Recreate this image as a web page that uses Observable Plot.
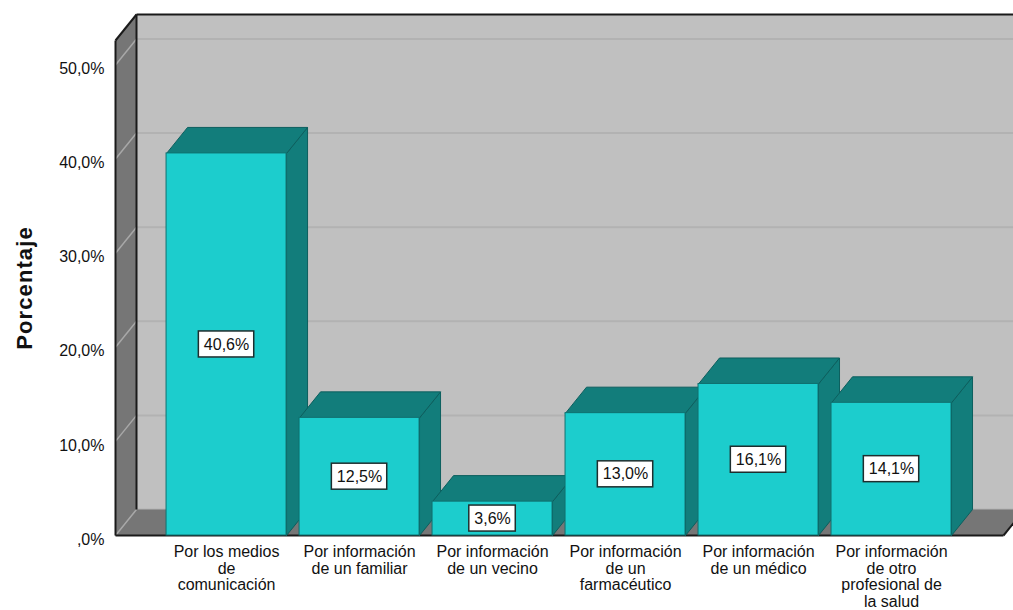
<!DOCTYPE html>
<html><head><meta charset="utf-8">
<script src="https://cdn.jsdelivr.net/npm/d3@7"></script>
<script src="https://cdn.jsdelivr.net/npm/@observablehq/plot@0.6"></script>
<style>html,body{margin:0;padding:0;overflow:hidden;background:#fff}</style>
</head><body><div id="chart"></div>
<script>
// ---- data ----
const categories = [
  "Por los medios\nde\ncomunicación",
  "Por información\nde un familiar",
  "Por información\nde un vecino",
  "Por información\nde un\nfarmacéutico",
  "Por información\nde un médico",
  "Por información\nde otro\nprofesional de\nla salud"
];
const percentages = [40.6, 12.5, 3.6, 13.0, 16.1, 14.1];
const yTicks = [0, 10, 20, 30, 40, 50];
const yLabel = "Porcentaje";

// ---- layout ----
const W = 1013, H = 610;
const M = {top: 40, right: 10, bottom: 75, left: 115};
const xDomain = [-0.835, 5.842];
const yDomain = [0, 52.6];
const kx = (W - M.left - M.right) / (xDomain[1] - xDomain[0]);
const ky = (H - M.top - M.bottom) / (yDomain[1] - yDomain[0]);
const DX = 21 / kx, DY = 26 / ky;   // 3D depth offset
const HW = 60 / kx;                 // half bar width
const BH = 13 / ky;                 // half label box height
const [xa, xb] = xDomain, ymax = yDomain[1];

const fmtPct = v => v.toFixed(1).replace(".", ",") + "%";
const fmtTick = v => v === 0 ? ",0%" : fmtPct(v);

const ctx = document.createElement("canvas").getContext("2d");
ctx.font = "16px 'Liberation Sans', Arial, sans-serif";

function poly(id, pts) { return pts.concat([pts[0]]).map(([x, y]) => ({id, x, y})); }

const bars = percentages.map((v, i) => ({i, v}));
const sides = bars.flatMap(({i, v}) => poly(i, [[i + HW, 0], [i + HW, v], [i + HW + DX, v + DY], [i + HW + DX, DY]]));
const tops = bars.flatMap(({i, v}) => poly(i, [[i - HW, v], [i + HW, v], [i + HW + DX, v + DY], [i - HW + DX, v + DY]]));
const walls = [
  ...poly("left", [[xa, 0], [xa, ymax], [xa + DX, ymax + DY], [xa + DX, DY]]),
  ...poly("floor", [[xa, 0], [xb, 0], [xb + DX, DY], [xa + DX, DY]])
];
const edges = [
  {x1: xa, y1: 0, x2: xa, y2: ymax},
  {x1: xa, y1: ymax, x2: xa + DX, y2: ymax + DY},
  {x1: xa + DX, y1: ymax + DY, x2: xb + DX, y2: ymax + DY},
  {x1: xa + DX, y1: ymax + DY, x2: xa + DX, y2: DY},
  {x1: xa, y1: 0, x2: xb, y2: 0},
  {x1: xb, y1: 0, x2: xb + DX, y2: DY}
];
const labels = bars.map(d => ({...d, hw: (ctx.measureText(fmtPct(d.v)).width + 10) / 2 / kx}));

const chart = Plot.plot({
  width: W, height: H,
  marginTop: M.top, marginRight: M.right, marginBottom: M.bottom, marginLeft: M.left,
  x: {type: "linear", domain: xDomain, label: null},
  y: {domain: yDomain, label: null},
  style: {fontFamily: "'Liberation Sans', Arial, sans-serif", fontSize: "16px", color: "#111", background: "white"},
  marks: [
    // back wall
    Plot.rect([0], {x1: () => xa + DX, x2: () => xb + DX, y1: () => DY, y2: () => ymax + DY, fill: "#c0c0c0"}),
    Plot.link(yTicks, {x1: () => xa + DX, x2: () => xb + DX, y1: t => t + DY, y2: t => t + DY, stroke: "#b2b2b2", strokeWidth: 2}),
    // left wall and floor
    Plot.line(walls, {x: "x", y: "y", z: "id", fill: "#767676", stroke: "none", curve: "linear"}),
    Plot.link(yTicks, {x1: () => xa, x2: () => xa + DX, y1: t => t, y2: t => t + DY, stroke: "#a8a8a8", strokeWidth: 1.5}),
    Plot.link(edges, {x1: "x1", y1: "y1", x2: "x2", y2: "y2", stroke: "#1a1a1a", strokeWidth: 2}),
    // bars
    Plot.line(sides, {x: "x", y: "y", z: "id", fill: "#127d7b", stroke: "#0c5f5e", strokeWidth: 1, curve: "linear"}),
    Plot.line(tops, {x: "x", y: "y", z: "id", fill: "#127d7b", stroke: "#0c5f5e", strokeWidth: 1, curve: "linear"}),
    Plot.rect(bars, {x1: d => d.i - HW, x2: d => d.i + HW, y1: 0, y2: "v", fill: "#1ccdcd", stroke: "#0f7170", strokeWidth: 1}),
    // value labels
    Plot.rect(labels, {x1: d => d.i - d.hw, x2: d => d.i + d.hw, y1: d => d.v / 2 - BH, y2: d => d.v / 2 + BH, fill: "white", stroke: "#1e2e2e", strokeWidth: 1.5}),
    Plot.text(labels, {x: "i", y: d => d.v / 2, text: d => fmtPct(d.v), fontSize: 16, fill: "#111"}),
    // axes
    Plot.axisY(yTicks, {tickSize: 0, tickPadding: 11, tickFormat: fmtTick, fontSize: 16, label: null, dy: 4}),
    Plot.axisX(d3.range(categories.length), {tickSize: 0, tickPadding: 10, tickFormat: i => categories[i], fontSize: 16, lineHeight: 1.03, label: null}),
    Plot.text([yLabel], {frameAnchor: "left", textAnchor: "middle", text: d => d, rotate: -90, dx: -91, fontSize: 22, fontWeight: "bold", fill: "#111"})
  ]
});
d3.select(chart).selectAll("text").filter(function() { return this.textContent === yLabel; }).attr("letter-spacing", "1.1px");
document.getElementById("chart").appendChild(chart);
</script>
</body></html>
